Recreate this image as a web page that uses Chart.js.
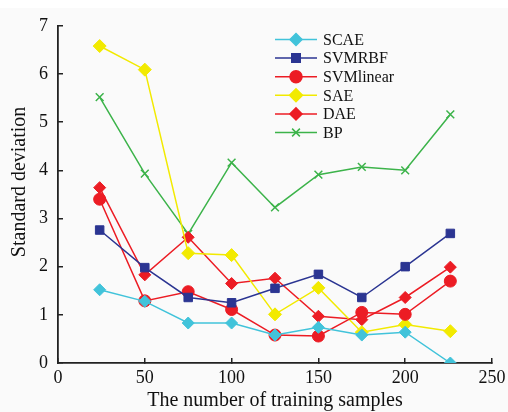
<!DOCTYPE html>
<html>
<head>
<meta charset="utf-8">
<title>Standard deviation vs training samples</title>
<script src="https://cdn.jsdelivr.net/npm/chart.js@4/dist/chart.umd.min.js"></script>
<style>
    html, body { margin: 0; padding: 0; background: #ffffff; }
    #wrap { width: 508px; height: 412px; }
</style>
</head>
<body>
<div id="wrap"><canvas id="sdChart" width="508" height="412"></canvas></div>
<script>
// Data
const samples = [24, 50, 75, 100, 125, 150, 175, 200, 226];
const scae = [1.52, 1.28, 0.83, 0.83, 0.58, 0.74, 0.58, 0.64, 0.0];
const svmRbf = [2.76, 1.98, 1.36, 1.25, 1.55, 1.84, 1.36, 2.0, 2.69];
const svmLinear = [3.4, 1.29, 1.48, 1.11, 0.58, 0.56, 1.05, 1.01, 1.7];
const sae = [6.58, 6.09, 2.28, 2.24, 1.01, 1.56, 0.64, 0.8, 0.66];
const dae = [3.64, 1.83, 2.61, 1.65, 1.76, 0.97, 0.9, 1.36, 1.99];
const bp = [5.52, 3.93, 2.68, 4.16, 3.23, 3.91, 4.07, 4.0, 5.16];

const seriesNames = ['SCAE', 'SVMRBF', 'SVMlinear', 'SAE', 'DAE', 'BP'];
const xTicks = [0, 50, 100, 150, 200, 250];
const yTicks = [0, 1, 2, 3, 4, 5, 6, 7];

const FONT = "'Liberation Serif', 'Times New Roman', serif";

function toPoints(values) {
    return values.map((v, i) => ({ x: samples[i], y: v }));
}

function makeSet(label, values, color, style, radius) {
    return {
        label: label,
        data: toPoints(values),
        borderColor: color,
        backgroundColor: color,
        borderWidth: 1.5,
        pointStyle: style,
        pointRadius: radius,
        pointBorderWidth: style === 'crossRot' ? 1.5 : 1,
        pointBackgroundColor: color,
        pointBorderColor: color,
        tension: 0
    };
}

const datasets = [
    makeSet(seriesNames[0], scae, '#41c3da', 'rectRot', 6),
    makeSet(seriesNames[1], svmRbf, '#2b3592', 'rect', 6),
    makeSet(seriesNames[2], svmLinear, '#ec1c24', 'circle', 6),
    makeSet(seriesNames[3], sae, '#f2ea00', 'rectRot', 6.5),
    makeSet(seriesNames[4], dae, '#ec1c24', 'rectRot', 6),
    makeSet(seriesNames[5], bp, '#3cb34a', 'crossRot', 5.5)
];

// page tint (the figure has a thin white strip on top)
const background = {
    id: 'background',
    beforeDraw(chart) {
        const ctx = chart.ctx;
        ctx.save();
        ctx.fillStyle = '#ffffff';
        ctx.fillRect(0, 0, chart.width, chart.height);
        ctx.fillStyle = '#fafafa';
        ctx.fillRect(0, 8, chart.width, chart.height - 8);
        ctx.restore();
    }
};

// legend box inside the plot, line + marker like the original
const insideLegend = {
    id: 'insideLegend',
    afterDraw(chart) {
        const ctx = chart.ctx;
        const x0 = 275, x1 = 317, textX = 323;
        let y = 39.5;
        ctx.save();
        ctx.font = '16px ' + FONT;
        ctx.textBaseline = 'middle';
        chart.data.datasets.forEach(ds => {
            ctx.strokeStyle = ds.borderColor;
            ctx.fillStyle = ds.backgroundColor;
            ctx.lineWidth = 1.5;
            ctx.beginPath();
            ctx.moveTo(x0, y);
            ctx.lineTo(x1, y);
            ctx.stroke();
            Chart.helpers.drawPoint(ctx, {
                pointStyle: ds.pointStyle,
                radius: ds.pointRadius,
                rotation: 0,
                borderWidth: ds.pointBorderWidth
            }, (x0 + x1) / 2, y);
            ctx.fillStyle = '#111';
            ctx.fillText(ds.label, textX, y + 1);
            y += 18.6;
        });
        ctx.restore();
    }
};

const ctx = document.getElementById('sdChart');

new Chart(ctx, {
    type: 'line',
    data: { datasets: datasets },
    options: {
        responsive: false,
        animation: false,
        events: [],
        layout: { padding: { top: 22, right: 16, left: 0, bottom: 0 } },
        plugins: {
            legend: { display: false },
            tooltip: { enabled: false }
        },
        scales: {
            x: {
                type: 'linear',
                min: 0,
                max: 250,
                afterBuildTicks: axis => { axis.ticks = xTicks.map(v => ({ value: v })); },
                afterFit: axis => {
                    axis.height = 49;
                    axis.paddingLeft = 0;
                    axis.paddingRight = 0;
                },
                border: { display: true, color: '#222', width: 1.8 },
                grid: { drawOnChartArea: false, drawTicks: true, tickLength: -5, color: '#222', lineWidth: 1.5 },
                ticks: { color: '#111', padding: 9, maxRotation: 0, font: { family: FONT, size: 18 } },
                title: {
                    display: true,
                    text: 'The number of training samples',
                    color: '#111',
                    padding: 0,
                    font: { family: FONT, size: 20, lineHeight: 1.1 }
                }
            },
            y: {
                min: 0,
                max: 7,
                afterBuildTicks: axis => { axis.ticks = yTicks.map(v => ({ value: v })); },
                afterFit: axis => { axis.width = 58; },
                border: { display: true, color: '#222', width: 1.8 },
                grid: { drawOnChartArea: false, drawTicks: true, tickLength: -5, color: '#222', lineWidth: 1.5 },
                ticks: { color: '#111', padding: 15, font: { family: FONT, size: 18 } },
                title: {
                    display: true,
                    text: '     Standard deviation',
                    color: '#111',
                    padding: { top: 9, bottom: 9 },
                    font: { family: FONT, size: 20, lineHeight: 1.1 }
                }
            }
        }
    },
    plugins: [background, insideLegend]
});
</script>
</body>
</html>
